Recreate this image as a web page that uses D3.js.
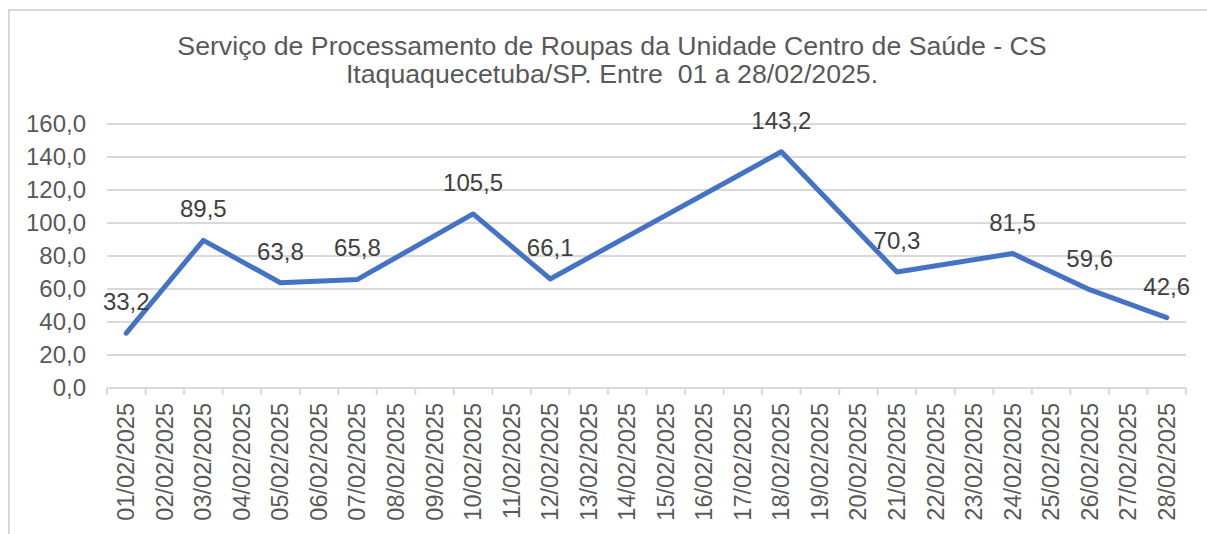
<!DOCTYPE html>
<html>
<head>
<meta charset="utf-8">
<script src="https://cdn.jsdelivr.net/npm/d3@7/dist/d3.min.js"></script>
<style>
    html, body { margin: 0; padding: 0; background: #fff; }
    #chart { width: 1207px; height: 534px; }
    text { font-family: "Liberation Sans", Arial, sans-serif; }
</style>
</head>
<body>
<div id="chart"></div>
<script>
// Roupas processadas por dia - fevereiro/2025
const titleLines = [
    "Serviço de Processamento de Roupas da Unidade Centro de Saúde - CS",
    "Itaquaquecetuba/SP. Entre  01 a 28/02/2025."
];
const dates = d3.range(1, 29).map(d => String(d).padStart(2, "0") + "/02/2025");
const values = [33.2, null, 89.5, null, 63.8, null, 65.8, null, null, 105.5,
    null, 66.1, null, null, null, null, null, 143.2, null, null,
    70.3, null, null, 81.5, null, 59.6, null, 42.6];
const yTicks = [0, 20, 40, 60, 80, 100, 120, 140, 160];

(() => {
    const W = 1207, H = 534;
    const m = { top: 124, right: 21, bottom: 146, left: 107 };
    const w = W - m.left - m.right;
    const h = H - m.top - m.bottom;
    const fmt = v => d3.format(".1f")(v).replace(".", ",");

    const svg = d3.select("#chart").append("svg").attr("width", W).attr("height", H);

    // moldura
    svg.append("rect").attr("x", 9).attr("y", 10).attr("width", W).attr("height", H)
        .attr("fill", "none").attr("stroke", "#d9d9d9").attr("stroke-width", 2);

    svg.append("text")
        .attr("x", 612).attr("y", 55)
        .attr("text-anchor", "middle")
        .attr("fill", "#595959")
        .style("font-size", "26.7px")
        .style("white-space", "pre")
        .selectAll("tspan").data(titleLines).join("tspan")
        .attr("x", 612).attr("dy", (d, i) => i ? 28 : 0)
        .text(d => d);

    const g = svg.append("g").attr("transform", `translate(${m.left},${m.top})`);

    const x = d3.scaleBand().domain(dates).range([0, w]);
    const y = d3.scaleLinear().domain([0, 160]).range([h, 0]);

    g.append("g").selectAll("line").data(yTicks).join("line")
        .attr("x1", 0).attr("x2", w)
        .attr("y1", d => y(d)).attr("y2", d => y(d))
        .attr("stroke", "#d9d9d9").attr("stroke-width", 2);

    const yAxis = g.append("g").call(d3.axisLeft(y).tickValues(yTicks).tickFormat(fmt).tickSize(0).tickPadding(21));
    yAxis.select(".domain").remove();
    yAxis.selectAll("text").attr("fill", "#595959").style("font-size", "24px")
        .style("font-family", "'Liberation Sans', Arial, sans-serif");

    // marcas do eixo x nas divisões das categorias
    g.append("g").selectAll("line").data(d3.range(dates.length + 1)).join("line")
        .attr("x1", i => i * x.step()).attr("x2", i => i * x.step())
        .attr("y1", h).attr("y2", h + 7)
        .attr("stroke", "#d9d9d9").attr("stroke-width", 2);

    g.append("g").selectAll("text").data(dates).join("text")
        .attr("transform", d => `translate(${x(d) + x.bandwidth() / 2 + 8},${h + 15}) rotate(-90)`)
        .attr("text-anchor", "end")
        .attr("fill", "#595959")
        .style("font-size", "23.5px")
        .text(d => d);

    const pts = dates.map((d, i) => ({ date: d, v: values[i] })).filter(d => d.v != null);

    g.append("path")
        .datum(pts)
        .attr("fill", "none")
        .attr("stroke", "#4472c4")
        .attr("stroke-width", 5)
        .attr("stroke-linejoin", "round")
        .attr("stroke-linecap", "round")
        .attr("d", d3.line().x(d => x(d.date) + x.bandwidth() / 2).y(d => y(d.v)));

    g.append("g").selectAll("text").data(pts).join("text")
        .attr("x", d => x(d.date) + x.bandwidth() / 2)
        .attr("y", d => y(d.v) - 23)
        .attr("text-anchor", "middle")
        .attr("fill", "#404040")
        .style("font-size", "24px")
        .text(d => fmt(d.v));
})();
</script>
</body>
</html>
